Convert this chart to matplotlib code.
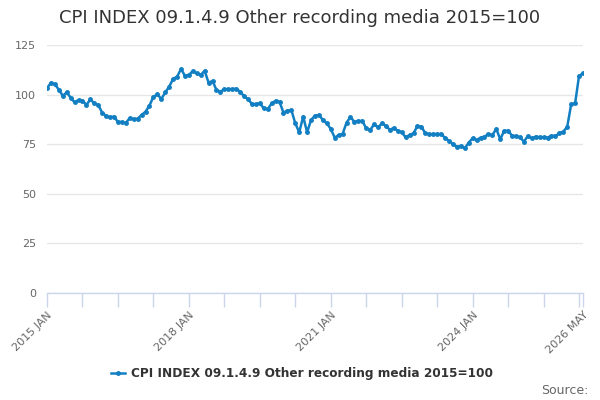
import matplotlib
matplotlib.use("Agg")
import matplotlib.pyplot as plt
import numpy as np

title = "CPI INDEX 09.1.4.9 Other recording media 2015=100"
series_name = "CPI INDEX 09.1.4.9 Other recording media 2015=100"
start_year = 2015
values = [
    103.2, 106.0, 105.2, 102.5, 99.4, 101.1, 98.5, 96.1, 97.3, 97.0, 94.8, 97.6,
    95.6, 94.8, 90.9, 89.2, 88.5, 88.9, 86.2, 86.2, 85.7, 88.2, 87.5, 87.9,
    89.7, 91.4, 94.5, 98.9, 100.1, 97.8, 101.1, 104.0, 107.9, 109.0, 112.9, 109.5,
    109.9, 111.9, 110.7, 109.9, 112.0, 106.0, 106.9, 102.3, 101.5, 102.7, 102.7, 102.7,
    103.0, 101.5, 99.2, 97.7, 95.3, 95.1, 95.6, 93.1, 92.6, 95.6, 96.9, 96.4,
    90.9, 91.9, 92.2, 85.5, 81.0, 88.9, 81.0, 87.2, 89.4, 89.7, 87.2, 85.5,
    82.7, 78.3, 79.6, 80.1, 85.9, 88.7, 86.3, 86.7, 86.7, 83.0, 82.2, 85.0,
    83.5, 85.5, 84.2, 82.2, 83.3, 81.7, 81.0, 78.5, 79.6, 80.5, 84.2, 83.8,
    80.5, 80.0, 80.1, 80.1, 80.1, 78.2, 76.7, 75.1, 73.7, 74.1, 72.9, 75.8,
    78.0, 77.1, 78.3, 78.8, 80.1, 79.6, 82.7, 77.5, 81.7, 81.8, 79.3, 79.1,
    78.5, 76.3, 79.1, 78.0, 78.8, 78.5, 78.5, 78.3, 79.3, 79.1, 80.5, 81.3,
    83.8, 95.1, 95.6, 109.5, 110.7,
]
months = ["JAN", "FEB", "MAR", "APR", "MAY", "JUN", "JUL", "AUG", "SEP", "OCT", "NOV", "DEC"]
y_ticks = [0, 25, 50, 75, 100, 125]

n = len(values)
x = np.arange(n)
labels = [f"{start_year + i // 12} {months[i % 12]}" for i in range(n)]

fig = plt.figure(figsize=(6, 4), dpi=100)
ax = fig.add_axes([47/600, 107/400, 536/600, 248/400])

line_color = "#137fc3"
ax.plot(x, values, color=line_color, lw=1.8, marker="o", ms=2.5, zorder=3)

ax.set_xlim(0, n - 1)
ax.set_ylim(0, 125)
ax.set_yticks(y_ticks)
ax.set_yticklabels([str(v) for v in y_ticks], fontsize=8, color="#666666")
ax.yaxis.grid(True, color="#e6e6e6", lw=1)
ax.set_axisbelow(True)
ax.tick_params(axis="y", length=0, pad=8)

tick_pos = list(range(0, n - 1, 9)) + [n - 1]
ax.set_xticks(tick_pos)
lab_idx = [0, 36, 72, 108, n - 1]
ax.set_xticklabels([labels[t] if t in lab_idx else "" for t in tick_pos],
                   rotation=45, ha="right", va="top", rotation_mode="anchor",
                   fontsize=8, color="#666666")
ax.tick_params(axis="x", length=10, width=1, color="#ccd6eb", pad=2)

for s in ["top", "right", "left"]:
    ax.spines[s].set_visible(False)
ax.spines["bottom"].set_color("#ccd6eb")
ax.spines["bottom"].set_linewidth(1)

fig.text(0.5, 1 - 18/400, title, ha="center", va="center", fontsize=13, color="#333333")

# legend
ly = 1 - 373/400
fig.add_artist(plt.Line2D([111/600, 118/600, 125/600], [ly, ly, ly], color=line_color, lw=1.8,
                          marker="o", ms=2.5, markevery=[1],
                          transform=fig.transFigure))
fig.text(131/600, ly, series_name, ha="left", va="center", fontsize=8.7,
         fontweight="bold", color="#333333")
fig.text(589/600, 1 - 390/400, "Source:", ha="right", va="center", fontsize=9, color="#666666")

fig.savefig("out.png", dpi=100)
